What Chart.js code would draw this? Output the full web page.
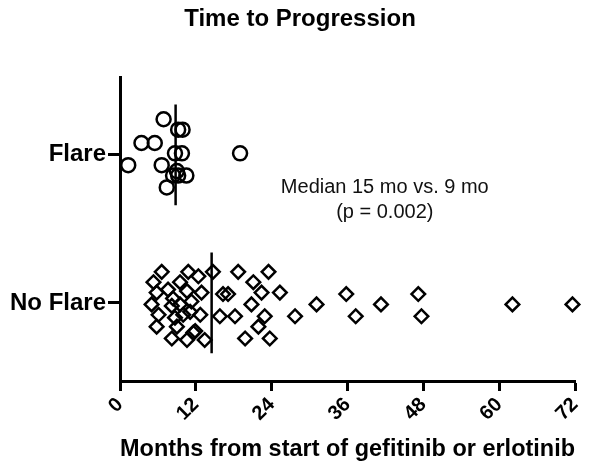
<!DOCTYPE html>
<html>
<head>
<meta charset="utf-8">
<script src="https://cdn.jsdelivr.net/npm/chart.js@4"></script>
<style>
  body { margin: 0; background: #fff; }
</style>
</head>
<body>
<canvas id="scatter-chart" width="600" height="469"></canvas>
<script>
// groups on the y axis: 1 = Flare, 0 = No Flare
const groupLabels = ["No Flare", "Flare"];
const xTicks = [0, 12, 24, 36, 48, 60, 72];

// months to progression, plus the vertical spread of each dot around its row
const flareMonths = [6.9, 9.2, 9.9, 3.4, 5.5, 8.7, 9.8, 19.0, 1.3, 6.6, 9.0, 9.2, 10.5, 8.4, 7.4];
const flareSpread = [0.24, 0.17, 0.17, 0.08, 0.08, 0.01, 0.01, 0.01, -0.07, -0.07, -0.11, -0.14, -0.14, -0.14, -0.22];

const noFlareMonths = [
  6.6, 10.8, 14.7, 18.7, 23.5, 12.4, 5.3, 9.5, 21.1, 5.8,
  10.6, 12.9, 16.3, 17.1, 22.4, 25.3, 8.4, 5.0, 9.5, 11.3,
  20.8, 6.1, 10.0, 12.7, 15.8, 18.2, 22.9, 27.7, 5.8, 9.0,
  11.9, 21.9, 8.2, 10.6, 13.4, 19.8, 23.7, 31.1, 35.8, 37.3,
  41.3, 47.2, 47.7, 62.1, 71.6, 8.2, 8.7, 11.1, 7.6, 11.6
];
const noFlareSpread = [
  0.21, 0.21, 0.21, 0.21, 0.21, 0.18, 0.14, 0.14, 0.14, 0.07,
  0.08, 0.07, 0.06, 0.06, 0.07, 0.07, 0.03, -0.01, -0.01, 0.01,
  -0.01, -0.08, -0.08, -0.08, -0.09, -0.09, -0.09, -0.09, -0.16, -0.16,
  -0.19, -0.16, -0.24, -0.25, -0.25, -0.24, -0.24, -0.01, 0.06, -0.09,
  -0.01, 0.06, -0.09, -0.01, -0.01, -0.02, -0.10, -0.06, 0.09, -0.20
];

// median lines (months) as drawn, for Flare and No Flare
const flareMedian = 8.8;
const noFlareMedian = 14.5;
const medianHalf = 0.34;

const noteLines = ["Median 15 mo vs. 9 mo", "(p = 0.002)"];

const FONT = "'Liberation Sans', Arial, Helvetica, sans-serif";

function toPoints(months, spread, group) {
  return months.map((m, i) => ({ x: m, y: group + spread[i] }));
}

function medianLine(m, group) {
  return [{ x: m, y: group - medianHalf }, { x: m, y: group + medianHalf }];
}

const notePlugin = {
  id: "note",
  afterDatasetsDraw(chart) {
    const ctx = chart.ctx;
    const xs = chart.scales.x;
    const ys = chart.scales.y;
    ctx.save();
    ctx.fillStyle = "#111";
    ctx.font = "20px " + FONT;
    ctx.textAlign = "center";
    ctx.textBaseline = "middle";
    ctx.fillText(noteLines[0], xs.getPixelForValue(41.9), ys.getPixelForValue(0.777));
    ctx.fillText(noteLines[1], xs.getPixelForValue(41.9), ys.getPixelForValue(0.608));
    ctx.restore();
  },
};

new Chart(document.getElementById("scatter-chart"), {
  type: "scatter",
  data: {
    datasets: [
      {
        label: "Flare",
        data: toPoints(flareMonths, flareSpread, 1),
        pointStyle: "circle",
        pointRadius: 7,
        borderWidth: 2.5,
        borderColor: "#000",
        backgroundColor: "rgba(0,0,0,0)",
        clip: false,
      },
      {
        label: "No Flare",
        data: toPoints(noFlareMonths, noFlareSpread, 0),
        pointStyle: "rectRot",
        pointRadius: 6.8,
        borderWidth: 2.5,
        borderColor: "#000",
        backgroundColor: "rgba(0,0,0,0)",
        clip: false,
      },
      {
        type: "line",
        label: "Flare median",
        data: medianLine(flareMedian, 1),
        borderColor: "#000",
        borderWidth: 2.5,
        pointRadius: 0,
      },
      {
        type: "line",
        label: "No Flare median",
        data: medianLine(noFlareMedian, 0),
        borderColor: "#000",
        borderWidth: 2.5,
        pointRadius: 0,
      },
    ],
  },
  options: {
    responsive: false,
    animation: false,
    layout: { padding: 0 },
    plugins: {
      legend: { display: false },
      tooltip: { enabled: false },
      title: {
        display: true,
        text: "Time to Progression",
        color: "#000",
        font: { family: FONT, size: 24, weight: "bold" },
        padding: { top: 5, bottom: 44 },
      },
    },
    scales: {
      x: {
        type: "linear",
        min: 0,
        max: 72,
        afterBuildTicks: (s) => { s.ticks = xTicks.map((v) => ({ value: v })); },
        afterFit: (s) => { s.height = 88; },
        border: { color: "#000", width: 3 },
        grid: { drawOnChartArea: false, tickLength: 10, tickWidth: 3, tickColor: "#000" },
        ticks: {
          color: "#000",
          minRotation: 45,
          maxRotation: 45,
          padding: 2,
          font: { family: FONT, size: 20, weight: "bold" },
        },
        title: {
          display: true,
          text: "Months from start of gefitinib or erlotinib",
          color: "#000",
          font: { family: FONT, size: 24, weight: "bold" },
          padding: { top: 0, bottom: 5 },
        },
      },
      y: {
        type: "linear",
        min: -0.527,
        max: 1.52,
        afterBuildTicks: (s) => { s.ticks = [{ value: 0 }, { value: 1 }]; },
        afterFit: (s) => { s.width = 120; },
        border: { color: "#000", width: 3 },
        grid: { drawOnChartArea: false, tickLength: 12, tickWidth: 3, tickColor: "#000" },
        ticks: {
          color: "#000",
          padding: 2,
          font: { family: FONT, size: 24, weight: "bold" },
          callback: (v) => groupLabels[v],
        },
      },
      // empty right-hand margin so the title stays centred on the page
      pad: {
        type: "linear",
        position: "right",
        display: true,
        afterFit: (s) => { s.width = 25; },
        border: { display: false },
        grid: { display: false },
        ticks: { display: false },
      },
    },
  },
  plugins: [notePlugin],
});
</script>
</body>
</html>
